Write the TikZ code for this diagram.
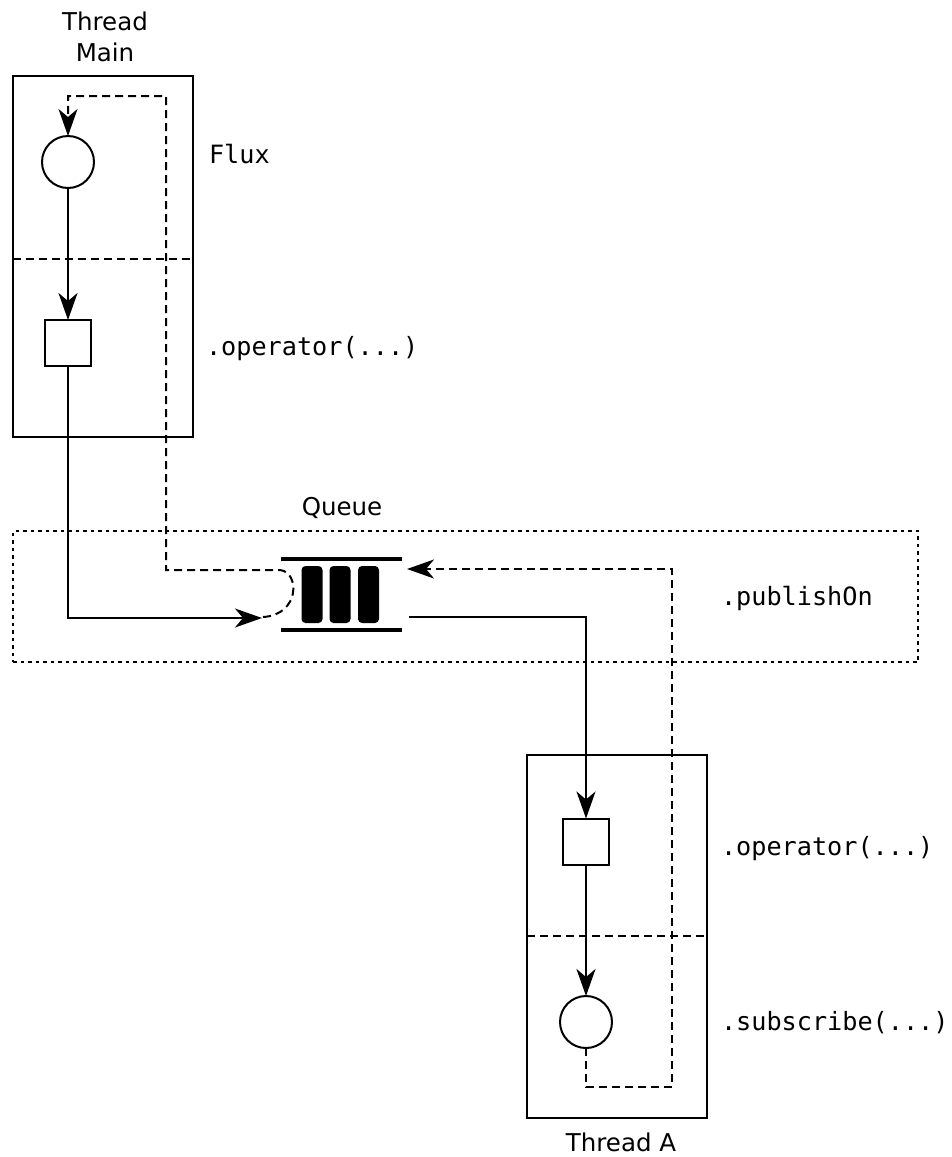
\documentclass[tikz,border=0pt]{standalone}
\usepackage{fontspec}
\setmainfont{DejaVu Sans}
\newfontfamily\codefont{DejaVu Sans Mono}
\usetikzlibrary{arrows.meta}
\begin{document}
\begin{tikzpicture}[x=1pt,y=-1pt,
  every node/.style={inner sep=0pt, outer sep=0pt},
  txt/.style={font=\fontsize{24.5}{31.5}\selectfont, align=center},
  code/.style={font=\codefont\fontsize{25.2}{31}\selectfont, anchor=base west},
  frame/.style={draw, line width=2pt},
  divider/.style={line width=1.8pt, dash pattern=on 8pt off 5pt},
  dotbox/.style={draw, line width=2.6pt, dash pattern=on 3.5pt off 4pt},
  circ/.style={draw, circle, line width=2pt, minimum size=52pt},
  sq/.style={draw, rectangle, line width=2pt, minimum size=46pt},
  bar/.style={fill=black, rounded corners=4pt},
  tip/.style={-{Stealth[length=27pt,width=19pt,inset=8pt]}},
  flow/.style={line width=2.2pt},
  back/.style={line width=2pt, dash pattern=on 8pt off 5pt},
]
\useasboundingbox (0,0) rectangle (951,1157);

% ---- Thread Main ----
\node[txt, anchor=base] (tmain) at (105,61.5) {Thread\\Main};
\node[frame, minimum width=180pt, minimum height=361pt] (mainbox) at (102.5,256.5) {};
\draw[divider] (mainbox.west |- 0,259) -- (mainbox.east |- 0,259);
\node[circ] (flux) at (68,162) {};
\node[sq] (op1) at (68,343) {};
\node[code] (lflux) at (209,163) {Flux};
\node[code] (lop1) at (206,355) {.operator(...)};
\draw[flow, tip] (flux.south) -- (op1.north);

% ---- Queue ----
\node[txt, anchor=base] (lqueue) at (342,515) {Queue};
\node[dotbox, minimum width=905pt, minimum height=131pt] (qbox) at (465.5,596.5) {};
\node[minimum width=121pt, minimum height=71pt] (queue) at (341,594.5) {};
\draw[line width=4.5pt] (queue.north west) -- (queue.north east);
\draw[line width=4.5pt] (queue.south west) -- (queue.south east);
\fill[bar] (301.5,566) rectangle (322.5,623);
\fill[bar] (329.5,566) rectangle (350.5,623);
\fill[bar] (358,566) rectangle (379,623);
\node[code] (lpub) at (721,605) {.publishOn};

% ---- Thread A ----
\node[frame, minimum width=180pt, minimum height=363pt] (abox) at (617,936.5) {};
\draw[divider] (abox.west |- 0,936) -- (abox.east |- 0,936);
\node[sq] (op2) at (586,841.5) {};
\node[circ] (sub) at (586,1022) {};
\node[code] (lop2) at (721,855) {.operator(...)};
\node[code] (lsub) at (721,1030) {.subscribe(...)};
\node[txt, anchor=base] (tA) at (621,1151) {Thread A};
\draw[flow, tip] (op2.south) -- (sub.north);

% ---- data flow: Main -> queue -> Thread A ----
\coordinate (qin) at (262,618);
\coordinate (qout) at (409,617);
\draw[flow, tip] (op1.south) -- (op1.south |- qin) -- (qin);
\draw[flow, tip] (qout) -- (586,617) -- (op2.north);

% ---- request flow back up ----
\coordinate (qback) at (407,569);
\draw[back, tip] (sub.south) -- (586,1087) -- (672,1087) -- (672,569) -- (qback);
\coordinate (qcurl) at (263,617);
\draw[back, tip] (qcurl) .. controls (300,615) and (300,572) .. (280,570)
  -- (166,570) -- (166,96) -- (flux.north |- 0,96) -- (flux.north);
\end{tikzpicture}
\end{document}
